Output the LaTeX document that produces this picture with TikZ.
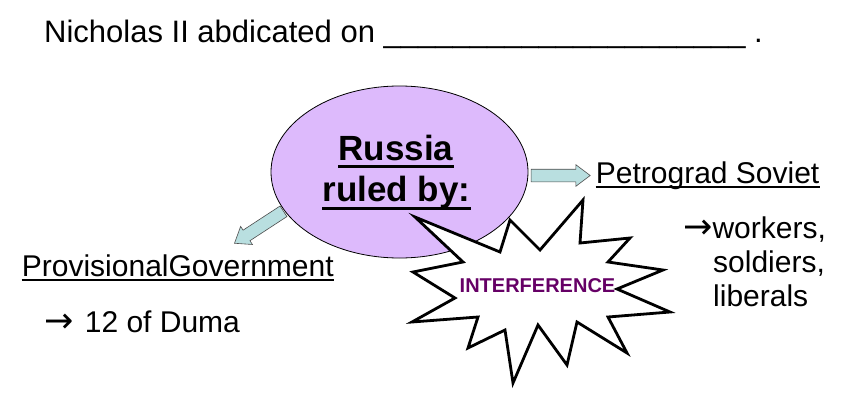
\documentclass[tikz,border=0pt]{standalone}
\usepackage{fontspec}
\setmainfont{Liberation Sans}
\newfontfamily\arrowfont{DejaVu Sans}
\usetikzlibrary{shapes.arrows,shapes.geometric,calc}
\definecolor{lav}{RGB}{221,186,252}
\definecolor{arrowfill}{RGB}{185,223,224}
\definecolor{purp}{RGB}{102,0,102}
\newcommand{\bigarrow}{{\arrowfont\fontsize{35}{36}\selectfont →}}
\begin{document}
\begin{tikzpicture}[x=1pt,y=-1pt,
  txt/.style={inner sep=0pt, anchor=base west, font=\fontsize{30}{36}\selectfont},
  boldtxt/.style={inner sep=0pt, anchor=base, font=\bfseries\fontsize{35}{40}\selectfont},
  ulthin/.style={line width=2pt},
  ulthick/.style={line width=3pt},
  blk/.style={single arrow, draw=black!70, line width=0.6pt, fill=arrowfill,
    minimum width=21pt, single arrow head extend=4.5pt, inner sep=6pt,
    single arrow tip angle=74, sloped, allow upside down},
  burst/.style={draw=black, line width=2.8pt, fill=white, line join=miter}]
\useasboundingbox (0,0) rectangle (856,404);

% title line
\node[txt, font=\fontsize{31}{36}\selectfont] (title) at (44,42.7)
  {Nicholas II abdicated on \_\_\_\_\_\_\_\_\_\_\_\_\_\_\_\_\_\_\_\_\_ .};

% central ellipse
\node[ellipse, draw=black, line width=0.8pt, fill=lav, minimum width=257pt,
  minimum height=172pt, inner sep=0pt] (russia) at (399.5,172) {};
\node[boldtxt] (r1) at (396,160) {Russia};
\node[boldtxt] (r2) at (396.5,201.7) {ruled by:};
\draw[ulthick] ([yshift=-6pt]r1.base west) -- ([yshift=-6pt]r1.base east);
\draw[ulthick] ([yshift=-6.3pt]r2.base west) -- ([yshift=-6.3pt]r2.base east);

% block arrows
\coordinate (ra) at (527,175.5);
\coordinate (rb) at (586,175.5);
\coordinate (la) at (287,209);
\coordinate (lb) at (238,241);
\path (ra) -- (rb) node[blk, midway, minimum height=59pt] (arrR) {};
\path (la) -- (lb) node[blk, midway, minimum height=58.5pt] (arrL) {};

% Petrograd Soviet
\node[txt] (soviet) at (595.7,183.3) {Petrograd Soviet};
\draw[ulthin] ([yshift=-4pt]soviet.base west) -- ([yshift=-4pt]soviet.base east);
\node[txt] (w1) at (683,238.5) {\bigarrow workers,};
\node[txt] (w2) at (713,272) {soldiers,};
\node[txt] (w3) at (713,306) {liberals};

% Provisional Government
\node[txt] (prov) at (21.7,276.7) {ProvisionalGovernment};
\draw[ulthin] ([yshift=-3.7pt]prov.base west) -- ([yshift=-3.7pt]prov.base east);
\node[txt] (duma) at (44,332) {\bigarrow\hspace{3pt} 12 of Duma};

% interference burst
\draw[burst] (415,217) -- (500,252) -- (510,220) -- (540,250) -- (583,200)
  -- (580,243) -- (630,238) -- (608,262) -- (663,270) -- (617,289)
  -- (670,312) -- (608,317) -- (627,353) -- (577,322) -- (567,365)
  -- (538,325) -- (513,383) -- (505,330) -- (468,348) -- (478,317)
  -- (412,322) -- (455,298) -- (413,272) -- (463,262) -- cycle;
\node[inner sep=0pt, anchor=base, text=purp, font=\bfseries\fontsize{20}{24}\selectfont]
  (interf) at (537.5,292.7) {INTERFERENCE};
\end{tikzpicture}
\end{document}
